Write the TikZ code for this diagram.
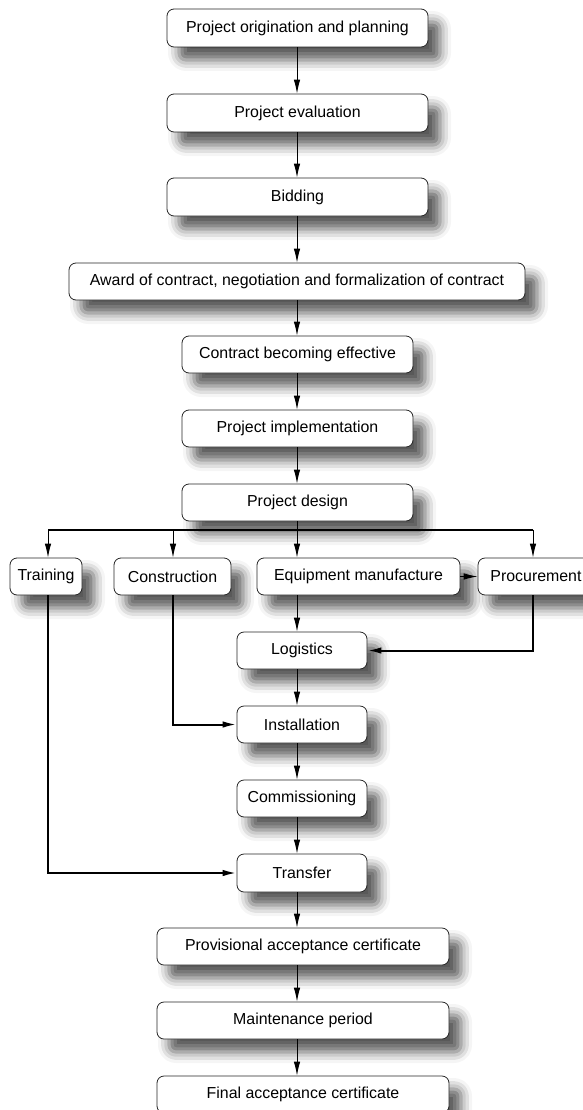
\documentclass[tikz,border=0pt]{standalone}
\usepackage{fontspec}
\setmainfont{Liberation Sans}
\usetikzlibrary{arrows.meta,shadows.blur}
\begin{document}
\begin{tikzpicture}[x=1pt,y=-1pt,
  box/.style={draw=black!85, line width=0.8pt, rounded corners=7pt, fill=white,
    font=\fontsize{15.9}{18}\selectfont, inner sep=0pt,
    blur shadow={shadow xshift=12pt, shadow yshift=-13pt, shadow blur radius=11pt, shadow opacity=65}},
  arr/.style={line width=0.9pt, -{Latex[length=14pt,width=6.5pt]}},
  bus/.style={line width=2pt},
  busarr/.style={line width=2pt, -{Latex[length=14pt,width=6.5pt]}}]
\useasboundingbox (0,0) rectangle (583,1110);
\node[box, minimum width=261pt, minimum height=38pt] (orig) at (297.5,28) {Project origination and planning};
\node[box, minimum width=261pt, minimum height=38pt] (eval) at (297.5,113) {Project evaluation};
\node[box, minimum width=261pt, minimum height=38pt] (bid) at (297.5,197) {Bidding};
\node[box, minimum width=456pt, minimum height=37pt] (award) at (297,281.5) {Award of contract, negotiation and formalization of contract};
\node[box, minimum width=231pt, minimum height=37pt] (eff) at (297.5,354.5) {Contract becoming effective};
\node[box, minimum width=231pt, minimum height=37pt] (impl) at (297.5,428.5) {Project implementation};
\node[box, minimum width=231pt, minimum height=37pt] (design) at (297.5,502.5) {Project design};
\node[box, minimum width=72pt, minimum height=37pt] (train) at (46,576.5) {Training};
\node[box, minimum width=117pt, minimum height=37pt] (cons) at (172.5,576.5) {Construction};
\node[box, minimum width=203pt, minimum height=37pt] (equip) at (358.5,576.5) {Equipment manufacture};
\node[box, minimum width=116pt, minimum height=37pt] (proc) at (536,576.5) {Procurement};
\node[box, minimum width=130pt, minimum height=37pt] (logi) at (302,650.5) {Logistics};
\node[box, minimum width=130pt, minimum height=37pt] (inst) at (302,724.5) {Installation};
\node[box, minimum width=130pt, minimum height=37pt] (comm) at (302,798.5) {Commissioning};
\node[box, minimum width=130pt, minimum height=38pt] (trans) at (302,873) {Transfer};
\node[box, minimum width=292pt, minimum height=37pt] (prov) at (303,946.5) {Provisional acceptance certificate};
\node[box, minimum width=292pt, minimum height=37pt] (maint) at (303,1020.5) {Maintenance period};
\node[box, minimum width=292pt, minimum height=37pt] (final) at (303,1094.5) {Final acceptance certificate};

\coordinate (b1) at (48,529.5);
\coordinate (b2) at (173,529.5);
\coordinate (b3) at (297,529.5);
\coordinate (b4) at (533,529.5);

\draw[arr] (orig.south -| 297,0) -- (eval.north -| 297,0);
\draw[arr] (eval.south -| 297,0) -- (bid.north -| 297,0);
\draw[arr] (bid.south -| 297,0) -- (award.north -| 297,0);
\draw[arr] (award.south -| 297,0) -- (eff.north -| 297,0);
\draw[arr] (eff.south -| 297,0) -- (impl.north -| 297,0);
\draw[arr] (impl.south -| 297,0) -- (design.north -| 297,0);
\draw[line width=0.9pt] (design.south -| 297,0) -- (b3);
\draw[bus] (b1) -- (b4);
\draw[arr] (b1) -- (train.north -| b1);
\draw[arr] (b2) -- (cons.north -| b2);
\draw[arr] (b3) -- (equip.north -| b3);
\draw[arr] (b4) -- (proc.north -| b4);
\draw[arr] (equip.east) -- (proc.west);
\draw[arr] (equip.south -| 297,0) -- (logi.north -| 297,0);
\draw[busarr] (proc.south -| b4) |- (logi.east);
\draw[arr] (logi.south -| 297,0) -- (inst.north -| 297,0);
\draw[busarr] (cons.south -| b2) |- (inst.west);
\draw[arr] (inst.south -| 297,0) -- (comm.north -| 297,0);
\draw[arr] (comm.south -| 297,0) -- (trans.north -| 297,0);
\draw[busarr] (train.south -| b1) |- (trans.west);
\draw[arr] (trans.south -| 297,0) -- (prov.north -| 297,0);
\draw[arr] (prov.south -| 297,0) -- (maint.north -| 297,0);
\draw[arr] (maint.south -| 297,0) -- (final.north -| 297,0);
\end{tikzpicture}
\end{document}
